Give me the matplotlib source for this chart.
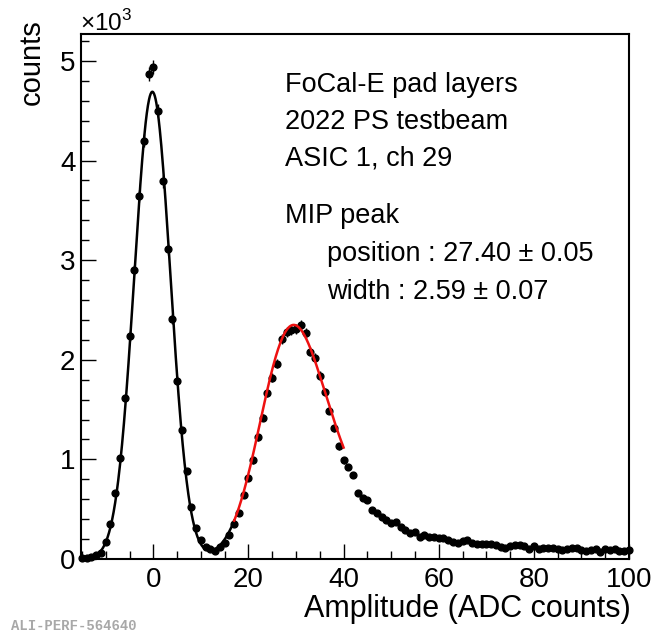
import numpy as np
import matplotlib
matplotlib.use("Agg")
import matplotlib.pyplot as plt
from matplotlib.ticker import MultipleLocator, FuncFormatter

plt.rcParams["font.family"] = ["Liberation Sans", "DejaVu Sans"]
plt.rcParams["mathtext.fontset"] = "custom"
plt.rcParams["mathtext.rm"] = "Liberation Sans"

# === Datos del histograma (1 bin por cuenta ADC) ===
amplitude = np.arange(-15, 101)
counts = np.array([
    10, 15, 25, 40, 65, 170, 350, 660, 1010, 1620,
    2240, 2900, 3640, 4200, 4870, 4940, 4500, 3790, 3110, 2410,
    1790, 1290, 880, 520, 310, 190, 120, 100, 80, 120,
    160, 240, 350, 460, 640, 810, 990, 1220, 1420, 1670,
    1820, 1960, 2210, 2280, 2300, 2310, 2350, 2270, 2080, 2020,
    1840, 1680, 1490, 1310, 1130, 990, 920, 840, 660, 610,
    590, 490, 460, 420, 390, 360, 370, 320, 290, 260,
    270, 220, 240, 220, 220, 210, 210, 190, 170, 160,
    180, 190, 160, 150, 150, 150, 150, 140, 120, 110,
    130, 140, 140, 130, 100, 130, 100, 110, 110, 110,
    100, 90, 100, 110, 110, 90, 80, 90, 100, 70,
    100, 90, 100, 80, 80, 90,
])
errors = np.sqrt(counts)

# === Parametros de los ajustes ===
PED_NORM, PED_MEAN, PED_SIGMA = 4690.0, -0.2, 3.8
MIP_MPV, MIP_WIDTH, MIP_GSIGMA, MIP_PEAK = 27.40, 2.59, 5.3, 2350.0
FIT_SPLIT, FIT_END = 17.0, 40.0

info_lines = ["FoCal-E pad layers", "2022 PS testbeam", "ASIC 1, ch 29", "MIP peak"]
fit_lines = ["position : 27.40 \u00b1 0.05", "width : 2.59 \u00b1 0.07"]


def pedestal(x):
    return PED_NORM * np.exp(-0.5 * ((x - PED_MEAN) / PED_SIGMA) ** 2)


def landau(lam):
    # densidad de Landau por integracion numerica
    t = np.arange(1e-6, 80, 0.005)
    out = np.zeros_like(lam)
    ok = np.where(lam > -3.8)[0]
    for i in range(0, len(ok), 200):
        idx = ok[i:i + 200]
        l = lam[idx][:, None]
        f = np.exp(-t * (np.log(t) + l)) * np.sin(np.pi * t)
        out[idx] = np.trapezoid(f, t, axis=1) / np.pi
    return np.clip(out, 0, None)


def mip(x):
    # landau convolucionada con gaussiana (langaus)
    dt = 0.05
    t = np.arange(-40, 140, dt)
    mpc = MIP_MPV + 0.22278298 * MIP_WIDTH
    lan = landau((t - mpc) / MIP_WIDTH)
    k = np.arange(-6 * MIP_GSIGMA, 6 * MIP_GSIGMA + dt, dt)
    gauss = np.exp(-0.5 * (k / MIP_GSIGMA) ** 2)
    conv = np.convolve(lan, gauss, mode="same")
    conv = conv / conv.max() * MIP_PEAK
    return np.interp(x, t, conv)


fig = plt.figure(figsize=(6.51, 6.37), dpi=100)
ax = fig.add_axes([81 / 651, 1 - 559 / 637, 548 / 651, 525 / 637])

ax.errorbar(amplitude, counts, yerr=errors, fmt="o", ms=4.9, color="black",
            elinewidth=1.0, capsize=0, clip_on=False, zorder=3)

x_black = np.linspace(-15, FIT_SPLIT, 400)
ax.plot(x_black, pedestal(x_black) + mip(x_black), color="black", lw=1.8, zorder=2)
x_red = np.linspace(FIT_SPLIT, FIT_END, 300)
ax.plot(x_red, pedestal(x_red) + mip(x_red), color="#ee1111", lw=1.8, zorder=4)

ax.set_xlim(-15.2, 100)
ax.set_ylim(0, 5270)

ax.xaxis.set_major_locator(MultipleLocator(20))
ax.xaxis.set_minor_locator(MultipleLocator(5))
ax.yaxis.set_major_locator(MultipleLocator(1000))
ax.yaxis.set_minor_locator(MultipleLocator(200))
ax.yaxis.set_major_formatter(FuncFormatter(lambda v, p: f"{v / 1000:g}"))

ax.tick_params(which="both", direction="in", top=False, right=False, labelsize=20)
ax.tick_params(which="major", length=11, width=1.0)
ax.tick_params(which="minor", length=5.5, width=1.0)
ax.tick_params(axis="x", pad=6)
ax.tick_params(axis="y", pad=4)
for s in ax.spines.values():
    s.set_linewidth(1.5)

# === Textos ===
fig.text(631 / 651, 1 - 594 / 637, "Amplitude (ADC counts)", ha="right", va="top", fontsize=22)
fig.text(32 / 651, 1 - 19 / 637, "counts", rotation=90, ha="center", va="top", fontsize=21)
fig.text(80 / 651, 1 - 31 / 637, r"$\times10^{3}$", ha="left", va="baseline", fontsize=17.5)

baselines = [92, 129, 166, 223]
for txt, b in zip(info_lines, baselines):
    fig.text(285 / 651, 1 - b / 637, txt, ha="left", va="baseline", fontsize=19.5)
for txt, b in zip(fit_lines, [261, 299]):
    fig.text(327 / 651, 1 - b / 637, txt, ha="left", va="baseline", fontsize=19.5)

fig.text(11 / 651, 1 - 630 / 637, "ALI-PERF-564640", ha="left", va="baseline",
         fontsize=10, family="Liberation Mono", weight="bold", color="#a8a8a8")

fig.savefig("out.png", dpi=100)
